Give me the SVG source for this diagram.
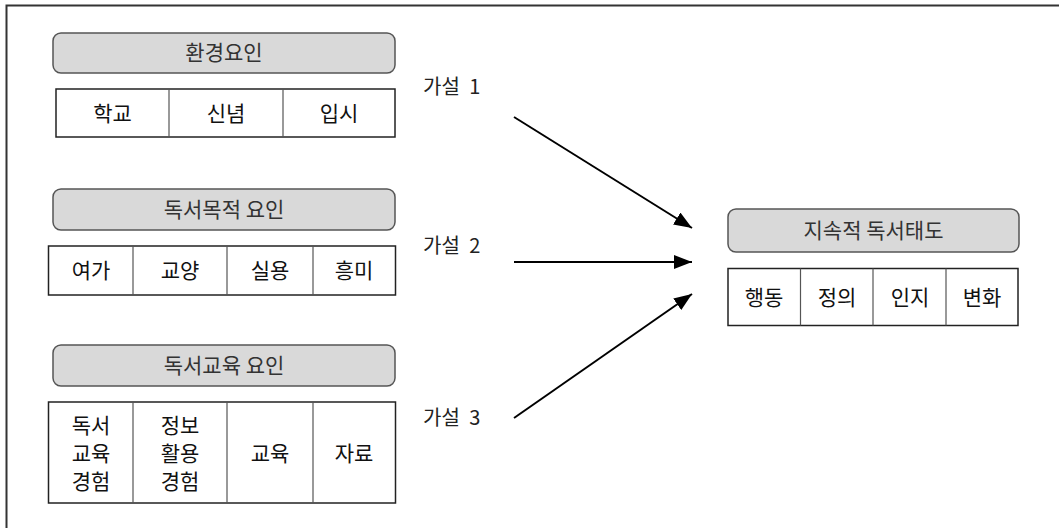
<svg xmlns="http://www.w3.org/2000/svg" width="1059" height="528" viewBox="0 0 1059 528">
<style>
.hdr{fill:#d9d9d9;stroke:#555;stroke-width:1.5}
.cell{fill:#fff;stroke:#222;stroke-width:1.5}
.div{stroke:#555;stroke-width:1.2}
text{font-family:"Noto Sans CJK KR","Noto Sans",sans-serif;text-anchor:middle}
.ht{font-size:21px;fill:#333}
.ct{font-size:21px;fill:#111}
.lab{font-size:20px;fill:#222;text-anchor:start;word-spacing:5px}
.conn{stroke:#000;stroke-width:2;fill:none}
</style>
<defs>
<marker id="arrow" markerWidth="18" markerHeight="14" refX="18" refY="7" orient="auto" markerUnits="userSpaceOnUse">
<path d="M0,0 L18,7 L0,14 Z" fill="#000"/>
</marker>
</defs>
<rect width="1059" height="528" fill="#fff"/>
<path d="M6.5,528 V5.5 H1059" fill="none" stroke="#333" stroke-width="2"/>

<g id="env">
<rect class="hdr" x="53" y="33" width="342" height="40" rx="8"/>
<text class="ht" x="224" y="60">환경요인</text>
<rect class="cell" x="56" y="89" width="339" height="48"/>
<line class="div" x1="169" y1="89" x2="169" y2="137"/>
<line class="div" x1="283" y1="89" x2="283" y2="137"/>
<text class="ct" x="112.5" y="121">학교</text>
<text class="ct" x="226" y="121">신념</text>
<text class="ct" x="339" y="121">입시</text>
</g>

<g id="purpose">
<rect class="hdr" x="53" y="189" width="342" height="41" rx="8"/>
<text class="ht" x="224" y="217">독서목적 요인</text>
<rect class="cell" x="48.5" y="246" width="347" height="49"/>
<line class="div" x1="133" y1="246" x2="133" y2="295"/>
<line class="div" x1="227" y1="246" x2="227" y2="295"/>
<line class="div" x1="313" y1="246" x2="313" y2="295"/>
<text class="ct" x="91" y="278">여가</text>
<text class="ct" x="180" y="278">교양</text>
<text class="ct" x="270" y="278">실용</text>
<text class="ct" x="354" y="278">흥미</text>
</g>

<g id="education">
<rect class="hdr" x="53" y="345" width="342" height="41" rx="8"/>
<text class="ht" x="224" y="373">독서교육 요인</text>
<rect class="cell" x="48.5" y="402" width="347" height="101"/>
<line class="div" x1="133" y1="402" x2="133" y2="503"/>
<line class="div" x1="227" y1="402" x2="227" y2="503"/>
<line class="div" x1="313" y1="402" x2="313" y2="503"/>
<text class="ct" x="91" y="433">독서</text>
<text class="ct" x="91" y="461">교육</text>
<text class="ct" x="91" y="489">경험</text>
<text class="ct" x="180" y="433">정보</text>
<text class="ct" x="180" y="461">활용</text>
<text class="ct" x="180" y="489">경험</text>
<text class="ct" x="270" y="461">교육</text>
<text class="ct" x="354" y="461">자료</text>
</g>

<g id="attitude">
<rect class="hdr" x="728" y="209" width="291" height="43" rx="8"/>
<text class="ht" x="873.5" y="238">지속적 독서태도</text>
<rect class="cell" x="728" y="268.5" width="290" height="57"/>
<line class="div" x1="800.5" y1="268.5" x2="800.5" y2="325.5"/>
<line class="div" x1="873" y1="268.5" x2="873" y2="325.5"/>
<line class="div" x1="946" y1="268.5" x2="946" y2="325.5"/>
<text class="ct" x="764" y="305">행동</text>
<text class="ct" x="837" y="305">정의</text>
<text class="ct" x="910" y="305">인지</text>
<text class="ct" x="982" y="305">변화</text>
</g>

<g id="connectors">
<line class="conn" x1="514" y1="117" x2="692" y2="228" marker-end="url(#arrow)"/>
<line class="conn" x1="514" y1="262" x2="692" y2="262" marker-end="url(#arrow)"/>
<line class="conn" x1="514" y1="418" x2="692" y2="294" marker-end="url(#arrow)"/>
<text class="lab" x="423" y="94">가설 1</text>
<text class="lab" x="423" y="253">가설 2</text>
<text class="lab" x="423" y="425">가설 3</text>
</g>
</svg>
